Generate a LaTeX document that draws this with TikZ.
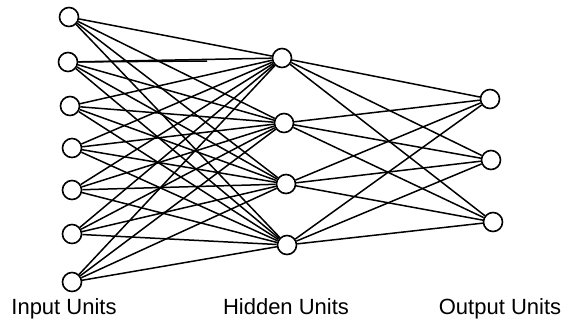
\documentclass[tikz,border=0pt]{standalone}
\usepackage{fontspec}
\setmainfont{Liberation Sans}
\begin{document}
\begin{tikzpicture}[x=1pt,y=-1pt,
  unit/.style={circle,draw=black,line width=1.6pt,minimum size=19pt,inner sep=0pt,fill=white},
  link/.style={line width=1.5pt,black},
  lbl/.style={font=\fontsize{22}{24}\selectfont,anchor=base,inner sep=0pt}]
\useasboundingbox (0,0) rectangle (564,330);
% input units
\node[unit] (i1) at (69,17) {};
\node[unit] (i2) at (68,62) {};
\node[unit] (i3) at (70,106) {};
\node[unit] (i4) at (72,148) {};
\node[unit] (i5) at (72,190) {};
\node[unit] (i6) at (72,234) {};
\node[unit] (i7) at (72,282) {};
% hidden units
\node[unit] (h1) at (282,58) {};
\node[unit] (h2) at (284,123) {};
\node[unit] (h3) at (286,184) {};
\node[unit] (h4) at (287,245) {};
% output units
\node[unit] (o1) at (490,99) {};
\node[unit] (o2) at (491,160) {};
\node[unit] (o3) at (493,222) {};
\coordinate (stray) at (207,61);
\foreach \i in {1,...,7}{
  \foreach \h in {1,...,4}{
    \draw[link] (i\i) -- (h\h);
  }
}
\foreach \h in {1,...,4}{
  \foreach \o in {1,...,3}{
    \draw[link] (h\h) -- (o\o);
  }
}
\draw[link] (i2) -- (stray);
\node[lbl] (li) at (64,314) {Input Units};
\node[lbl] (lh) at (286,314) {Hidden Units};
\node[lbl] (lo) at (500,314) {Output Units};
\end{tikzpicture}
\end{document}
